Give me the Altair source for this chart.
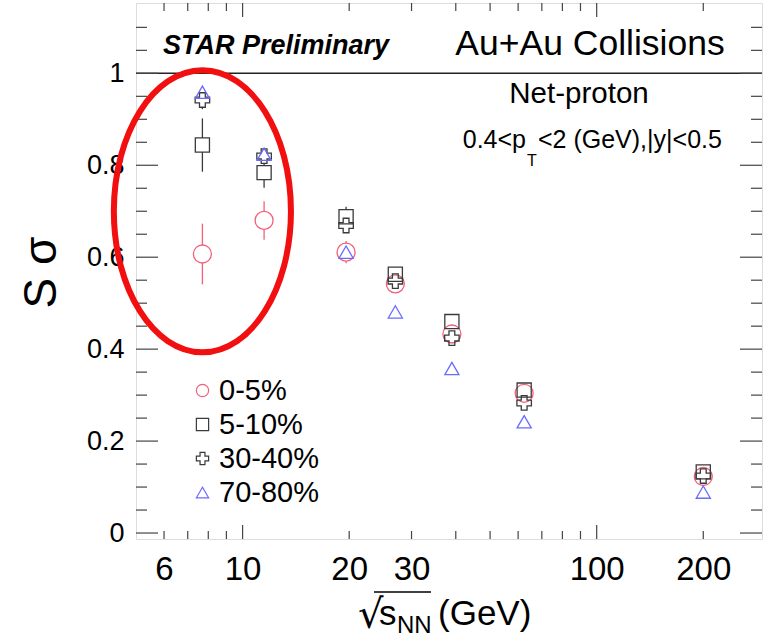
import altair as alt
import pandas as pd

# ---------------- data ----------------
energies = [7.7, 11.5, 19.6, 27, 39, 62.4, 200]
centralities = ["0-5%", "5-10%", "30-40%", "70-80%"]

s_0_5 = [0.607, 0.680, 0.611, 0.542, 0.433, 0.304, 0.123]
e_0_5 = [0.066, 0.042, 0.024, 0.012, 0.010, 0.008, 0.010]
s_5_10 = [0.844, 0.784, 0.688, 0.563, 0.460, 0.311, 0.133]
e_5_10 = [0.058, 0.033, 0.022, 0.012, 0.010, 0.008, 0.008]
s_30_40 = [0.942, 0.820, 0.669, 0.548, 0.424, 0.283, 0.124]
e_30_40 = [0.020, 0.012, 0.010, 0.008, 0.008, 0.006, 0.006]
s_70_80 = [0.959, 0.824, 0.611, 0.481, 0.358, 0.242, 0.089]
e_70_80 = [0.010, 0.008, 0.006, 0.006, 0.005, 0.004, 0.004]

x_tick_labels = [6, 10, 20, 30, 100, 200]
y_tick_labels = [0, 0.2, 0.4, 0.6, 0.8, 1]
x_major_ticks = [10, 100]
x_minor_ticks = [6, 7, 8, 9, 20, 30, 40, 50, 60, 70, 80, 90, 200]
y_major_ticks = [0, 0.2, 0.4, 0.6, 0.8, 1.0]
y_minor_ticks = [0.05, 0.1, 0.15, 0.25, 0.3, 0.35, 0.45, 0.5, 0.55, 0.65, 0.7,
                 0.75, 0.85, 0.9, 0.95, 1.05, 1.1]
header_line = [1.0]
ellipse_center_x = [7.7]
ellipse_center_y = [0.70]

# ---------------- styles ----------------
colors = ["#f2607a", "#3a3a3a", "#3a3a3a", "#6a6aff"]
shapes = ["circle", "square", "cross", "triangle-up"]
msizes = [324, 200, 210, 200]
FONT = "Liberation Sans"
W, H = 626, 536

series = [s_0_5, s_5_10, s_30_40, s_70_80]
errors = [e_0_5, e_5_10, e_30_40, e_70_80]
rows = []
for i, c in enumerate(centralities):
    for e, v, er in zip(energies, series[i], errors[i]):
        rows.append({"E": e, "S": v, "lo": v - er, "hi": v + er, "cent": c,
                     "col": colors[i], "shp": shapes[i], "msz": msizes[i]})
df = pd.DataFrame(rows)

xscale = alt.Scale(type="log", domain=[5, 293], nice=False)
yscale = alt.Scale(domain=[-0.013, 1.153], nice=False, zero=False)

XAX = alt.Axis(values=x_tick_labels, labelExpr="format(datum.value, '~g')",
               ticks=False, domain=False, grid=False, labelFontSize=33,
               labelPadding=14, labelColor="black", labelFont=FONT, title=None,
               labelFlush=False, labelOverlap=False)
YAX = alt.Axis(values=y_tick_labels, labelExpr="format(datum.value, '~g')",
               ticks=False, domain=False, grid=False, labelFontSize=27,
               labelPadding=12, labelColor="black", labelFont=FONT,
               title="S σ", titleFontSize=46, titleFont=FONT, titleFontWeight="normal",
               titleColor="black", titleAngle=270, titleX=-81, titleY=269,
               titleAlign="center", titleBaseline="alphabetic",
               labelFlush=False, labelOverlap=False)


def X(field):
    return alt.X(field, scale=xscale, axis=XAX)


def Y(field):
    return alt.Y(field, scale=yscale, axis=YAX)


# error bars
errbars = alt.Chart(df).mark_rule(strokeWidth=1.3).encode(
    x=X("E:Q"), y=Y("lo:Q"), y2="hi:Q",
    color=alt.Color("col:N", scale=None),
)

# white masks so error bars do not cross the open markers
masks = alt.Chart(df).mark_point(filled=True, opacity=1, strokeWidth=0).encode(
    x=X("E:Q"), y=Y("S:Q"),
    shape=alt.Shape("shp:N", scale=None),
    size=alt.Size("msz:Q", scale=None),
    color=alt.value("white"),
)

leg = alt.Legend(orient="none", legendX=52, legendY=373, title=None,
                 labelFontSize=29, labelFont=FONT, labelColor="black",
                 symbolSize=150, symbolStrokeWidth=1.2, labelOffset=2,
                 rowPadding=4, padding=0)
points = alt.Chart(df).mark_point(filled=False, opacity=1, strokeWidth=1.3).encode(
    x=X("E:Q"), y=Y("S:Q"),
    color=alt.Color("cent:N", scale=alt.Scale(domain=centralities, range=colors), legend=leg),
    shape=alt.Shape("cent:N", scale=alt.Scale(domain=centralities, range=shapes), legend=leg),
    size=alt.Size("msz:Q", scale=None),
)

# red ellipse annotation
ell_path = "M-0.628,0A0.628,1,0,1,0,0.628,0A0.628,1,0,1,0,-0.628,0Z"
ellipse = alt.Chart(pd.DataFrame({"E": ellipse_center_x, "S": ellipse_center_y})).mark_point(
    shape=ell_path, size=79524, filled=False, opacity=1, strokeWidth=6, color="#f20f0f"
).encode(x=X("E:Q"), y=Y("S:Q"))

header = alt.Chart(pd.DataFrame({"v": header_line})).mark_rule(color="#222", strokeWidth=1.5).encode(
    y=Y("v:Q"))

TICK = "#444"


def yticks(vals, length, side):
    d = pd.DataFrame({"v": vals})
    if side == "left":
        xa, xb = 0, length
    else:
        xa, xb = W, W - length
    return alt.Chart(d).mark_rule(color=TICK, strokeWidth=1.2).encode(
        y=Y("v:Q"), x=alt.value(xa), x2=alt.value(xb))


def xticks(vals, length, side):
    d = pd.DataFrame({"v": vals})
    if side == "bottom":
        ya, yb = H, H - length
    else:
        ya, yb = 0, length
    return alt.Chart(d).mark_rule(color=TICK, strokeWidth=1.2).encode(
        x=X("v:Q"), y=alt.value(ya), y2=alt.value(yb))


ticks = [yticks(y_major_ticks, 22, "left"), yticks(y_minor_ticks, 11, "left"),
         yticks(y_major_ticks, 22, "right"), yticks(y_minor_ticks, 11, "right"),
         xticks(x_major_ticks, 14, "bottom"), xticks(x_minor_ticks, 8, "bottom"),
         xticks(x_major_ticks, 14, "top"), xticks(x_minor_ticks, 8, "top")]


def label(text, x, y, size, align="left", weight="normal", style="normal", font=FONT):
    return alt.Chart(pd.DataFrame({"t": [text]})).mark_text(
        align=align, baseline="alphabetic", fontSize=size, fontWeight=weight,
        fontStyle=style, font=font, color="black"
    ).encode(text="t:N", x=alt.value(x), y=alt.value(y))


texts = [
    label("STAR Preliminary", 140, 51, 27, "center", "bold", "italic"),
    label("Au+Au Collisions", 454, 52, 35.5, "center"),
    label("Net-proton", 443, 100, 29.5, "center"),
    label("0.4<p", 390, 145, 25, "right"),
    label("T", 391, 163, 16, "left"),
    label("<2 (GeV),|y|<0.5", 402, 145, 25, "left"),
    # x-axis title: sqrt(s_NN) (GeV)
    label("√", 222, 625, 40, "left", font="DejaVu Sans"),
    label("s", 243, 622, 35, "left"),
    label("NN", 261, 630, 24, "left"),
    label("(GeV)", 302, 622, 35, "left"),
]
overline = alt.Chart(pd.DataFrame({"t": [0]})).mark_rule(color="black", strokeWidth=1.3).encode(
    x=alt.value(238), x2=alt.value(295), y=alt.value(589))

chart = alt.layer(errbars, masks, points, header, *ticks, ellipse, *texts, overline).resolve_scale(
    color="independent", shape="independent", size="independent"
).properties(
    width=W, height=H,
    autosize=alt.AutoSizeParams(type="none"),
    padding={"left": 136, "top": 3, "right": 1, "bottom": 99},
    background="white",
).configure_view(stroke="#222", strokeWidth=2).configure(font=FONT)

chart.save("out.html", embed_options={"renderer": "svg", "actions": False})
